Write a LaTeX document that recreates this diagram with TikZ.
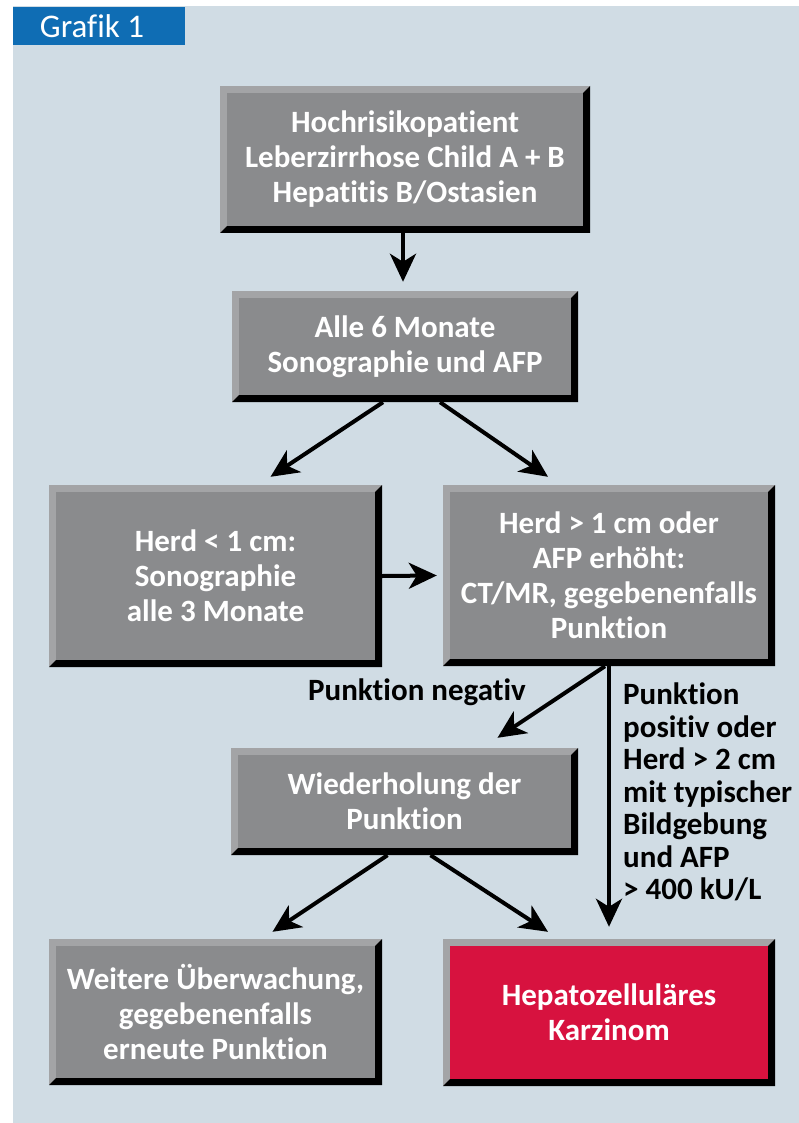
\documentclass[tikz,border=0pt]{standalone}
\usepackage{fontspec}
\setmainfont{Carlito}[Ligatures={NoCommon}]
\usetikzlibrary{arrows.meta}
\definecolor{bg}{HTML}{D0DCE4}
\definecolor{tabblue}{HTML}{0F6DB4}
\definecolor{face}{HTML}{8A8B8D}
\definecolor{bevel}{HTML}{A3A4A6}
\definecolor{redface}{HTML}{D7123F}
\begin{document}
\begin{tikzpicture}[x=1pt,y=-1pt,
  bevbox/.style n args={3}{rectangle, inner sep=0pt, minimum width=#1, minimum height=#2,
    fill=bevel, text=white, align=center,
    font=\fontsize{31}{35}\selectfont\bfseries,
    path picture={
      \fill[black] (path picture bounding box.south west) -- (path picture bounding box.south east)
        -- (path picture bounding box.north east) -- ([shift={(-7pt,-7pt)}]path picture bounding box.north east)
        -- ([shift={(-7pt,7pt)}]path picture bounding box.south east) -- ([shift={(7pt,7pt)}]path picture bounding box.south west) -- cycle;
      \fill[#3] ([shift={(7pt,-7pt)}]path picture bounding box.north west) rectangle ([shift={(-7pt,7pt)}]path picture bounding box.south east);
    }},
  arr/.style={line width=4pt, -{Stealth[length=28pt,width=26pt,inset=8pt]}},
  lbl/.style={inner sep=0pt, text=black, font=\fontsize{31}{32.5}\selectfont\bfseries}
]
\useasboundingbox (0,0) rectangle (799,1123);
\fill[white] (0,0) rectangle (799,1123);
\fill[bg] (13,6) rectangle (799,1123);
\node[fill=tabblue, minimum width=172pt, minimum height=38pt, inner sep=0pt, text=white,
  font=\fontsize{33}{36}\selectfont] (title) at (99,26) {\hspace*{-14pt}Grafik 1};

\node[bevbox={370pt}{147pt}{face}] (b1) at (405,159.5) {Hochrisikopatient\\Leberzirrhose Child A + B\\Hepatitis B/Ostasien};
\node[bevbox={346pt}{111pt}{face}] (b2) at (405,346.5) {Alle 6 Monate\\Sonographie und AFP};
\node[bevbox={333pt}{182pt}{face}] (b3) at (215.5,576) {Herd < 1 cm:\\Sonographie\\alle 3 Monate};
\node[bevbox={332pt}{181pt}{face}] (b4) at (609,575.5) {Herd > 1 cm oder\\AFP erhöht:\\CT/MR, gegebenenfalls\\Punktion};
\node[bevbox={347pt}{107pt}{face}] (b5) at (404.5,801.5) {Wiederholung der\\Punktion};
\node[bevbox={333pt}{146pt}{face}] (b6) at (215.5,1012) {Weitere Überwachung,\\gegebenenfalls\\erneute Punktion};
\node[bevbox={332pt}{147pt}{redface}] (b7) at (609,1012.5) {Hepatozelluläres\\Karzinom};

\node[lbl] (l1) at (417,692) {Punktion negativ};
\node[lbl, anchor=west, align=left] (l2) at (623,792) {Punktion\\positiv oder\\Herd > 2 cm\\mit typischer\\Bildgebung\\und AFP\\> 400 kU/L};

\draw[arr] ([xshift=-2pt]b1.south) -- ([xshift=-2pt,yshift=9pt]b2.north);
\draw[arr] ([xshift=-22pt]b2.south) -- ([xshift=55pt,yshift=8pt]b3.north);
\draw[arr] ([xshift=35pt]b2.south) -- ([xshift=-61pt,yshift=8pt]b4.north);
\draw[arr] (b3.east) -- ([xshift=-6pt]b4.west);
\draw[arr] ([xshift=-4pt]b4.south) -- ([xshift=93pt,yshift=10pt]b5.north);
\draw[arr] (b4.south) -- ([yshift=12pt]b7.north);
\draw[arr] ([xshift=-17pt]b5.south) -- ([xshift=57pt,yshift=7pt]b6.north);
\draw[arr] ([xshift=26pt]b5.south) -- ([xshift=-61pt,yshift=7pt]b7.north);
\end{tikzpicture}
\end{document}
